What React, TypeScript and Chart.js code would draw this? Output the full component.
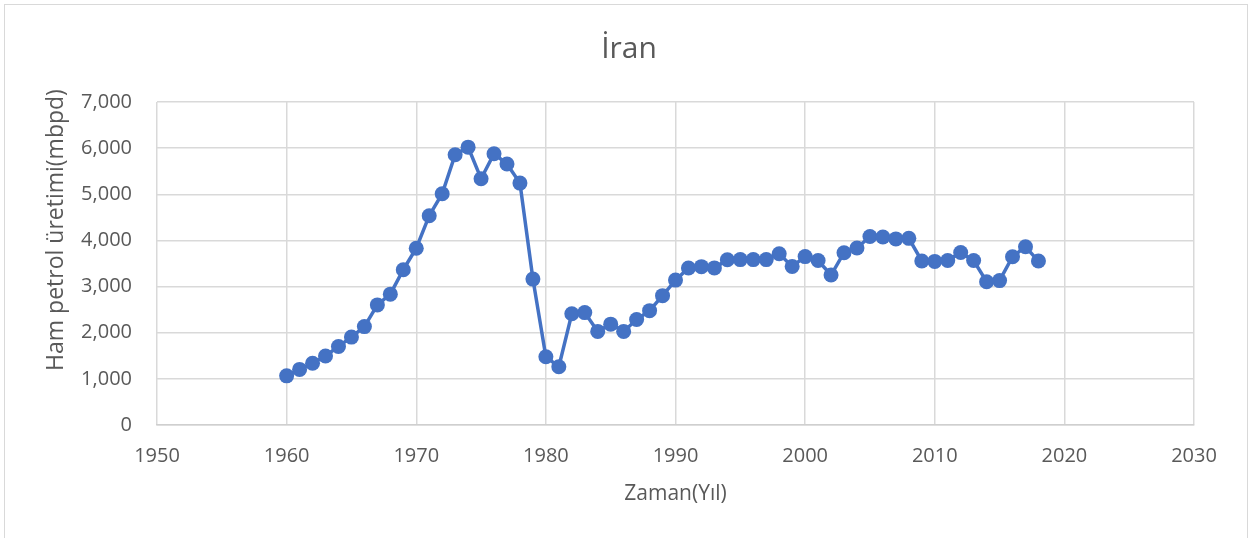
import React, { useEffect, useRef } from "react";
import { Chart, registerables } from "chart.js";

Chart.register(...registerables);

const years: number[] = [
  1960, 1961, 1962, 1963, 1964, 1965, 1966, 1967, 1968, 1969,
  1970, 1971, 1972, 1973, 1974, 1975, 1976, 1977, 1978, 1979,
  1980, 1981, 1982, 1983, 1984, 1985, 1986, 1987, 1988, 1989,
  1990, 1991, 1992, 1993, 1994, 1995, 1996, 1997, 1998, 1999,
  2000, 2001, 2002, 2003, 2004, 2005, 2006, 2007, 2008, 2009,
  2010, 2011, 2012, 2013, 2014, 2015, 2016, 2017, 2018,
];

const production: number[] = [
  1065, 1205, 1337, 1495, 1702, 1905, 2133, 2603, 2836, 3365,
  3832, 4536, 5013, 5858, 6022, 5338, 5880, 5656, 5242, 3162,
  1478, 1263, 2410, 2436, 2028, 2186, 2028, 2285, 2478, 2803,
  3140, 3403, 3432, 3405, 3582, 3585, 3585, 3585, 3710, 3437,
  3650, 3565, 3250, 3734, 3836, 4085, 4075, 4033, 4045, 3555,
  3545, 3565, 3738, 3565, 3105, 3130, 3647, 3862, 3553,
];

const title = "İran";
const xTitle = "Zaman(Yıl)";
const yTitle = "Ham petrol üretimi(mbpd)";

const FONT = "'Open Sans', 'Noto Sans', sans-serif";
const TEXT = "#595959";
const GRID = "#D9D9D9";
const BLUE = "#4472C4";

const borderPlugin = {
  id: "outerBorder",
  beforeDraw(chart: any) {
    const ctx = chart.ctx;
    ctx.save();
    ctx.fillStyle = "#ffffff";
    ctx.fillRect(0, 0, chart.width, chart.height);
    ctx.strokeStyle = GRID;
    ctx.lineWidth = 1;
    ctx.strokeRect(4.5, 4.5, 1243, 540);
    ctx.restore();
  },
};

const yTitlePlugin = {
  id: "yTitle",
  afterDraw(chart: any) {
    const ctx = chart.ctx;
    ctx.save();
    ctx.translate(56, 230);
    ctx.rotate(-Math.PI / 2);
    ctx.fillStyle = TEXT;
    ctx.font = `23px ${FONT}`;
    ctx.textAlign = "center";
    ctx.textBaseline = "middle";
    ctx.fillText(yTitle, 0, 0);
    ctx.restore();
  },
};

export default function App() {
  const ref = useRef<HTMLCanvasElement | null>(null);

  useEffect(() => {
    document.body.style.margin = "0";
    const canvas = ref.current;
    if (!canvas) return;
    const chart = new Chart(canvas, {
      type: "line",
      data: {
        datasets: [
          {
            label: title,
            data: years.map((y, i) => ({ x: y, y: production[i] })),
            borderColor: BLUE,
            backgroundColor: BLUE,
            borderWidth: 3.5,
            pointRadius: 7.5,
            pointBackgroundColor: BLUE,
            pointBorderColor: BLUE,
            pointBorderWidth: 0,
            tension: 0,
            yAxisID: "y",
          },
        ],
      },
      plugins: [borderPlugin, yTitlePlugin],
      options: {
        responsive: false,
        animation: false,
        layout: { padding: { left: 0, right: 0, top: 0, bottom: 0 } },
        plugins: {
          legend: { display: false },
          tooltip: { enabled: false },
          title: {
            display: true,
            text: title,
            color: TEXT,
            font: { family: FONT, size: 30, weight: "normal" },
            padding: { top: 31, bottom: 35 },
          },
        },
        scales: {
          x: {
            type: "linear",
            min: 1950,
            max: 2030,
            ticks: {
              stepSize: 10,
              color: TEXT,
              font: { family: FONT, size: 20 },
              padding: 19,
              callback: (v: any) => String(v),
              maxRotation: 0,
            },
            grid: { color: GRID, lineWidth: 1.5, drawTicks: false },
            border: { display: true, color: "#CFCFCF", width: 1.5 },
            title: {
              display: true,
              text: xTitle,
              color: TEXT,
              font: { family: FONT, size: 21 },
              padding: { top: 0, bottom: 31 },
            },
            afterFit: (s: any) => {
              s.height = 113;
            },
          },
          y: {
            position: "left",
            min: 0,
            max: 7000,
            ticks: {
              stepSize: 1000,
              color: TEXT,
              font: { family: FONT, size: 20 },
              padding: 25,
              callback: (v: any) => Number(v).toLocaleString("en-US"),
            },
            grid: { color: GRID, lineWidth: 1.5, drawTicks: false },
            border: { display: false },
            afterFit: (s: any) => {
              s.width = 157;
            },
          },
          yRight: {
            position: "right",
            min: 0,
            max: 7000,
            ticks: { display: false },
            grid: { display: false, drawTicks: false },
            border: { display: false },
            afterFit: (s: any) => {
              s.width = 64;
            },
          },
        },
      },
    } as any);
    return () => chart.destroy();
  }, []);

  return (
    <div style={{ width: 1258, height: 538 }}>
      <canvas ref={ref} width={1258} height={538} style={{ display: "block" }} />
    </div>
  );
}
